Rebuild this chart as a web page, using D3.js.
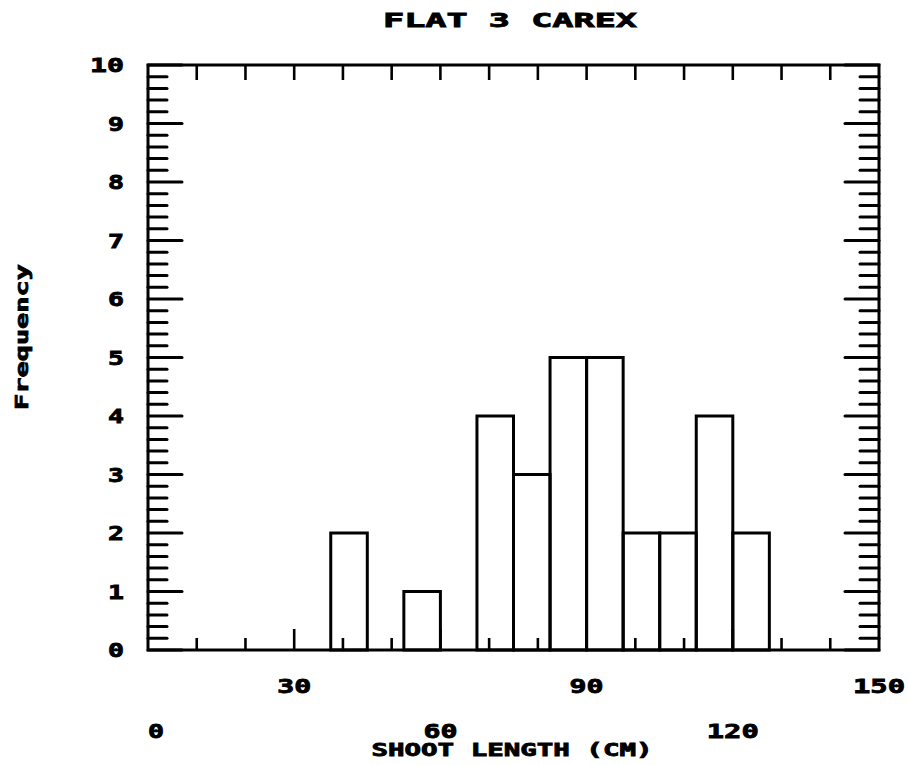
<!DOCTYPE html>
<html><head><meta charset="utf-8">
<script src="https://cdn.jsdelivr.net/npm/d3@7"></script>
<style>
html,body{margin:0;padding:0;background:#fff;}
svg text{font-family:"DejaVu Sans Mono",monospace;font-weight:bold;fill:#000;stroke:#000;stroke-width:0.8px;}
</style></head>
<body><svg id="c" width="909" height="765"></svg>
<script>
// ---- data ----
const binStarts = [37.5, 52.5, 67.5, 75, 82.5, 90, 97.5, 105, 112.5, 120];
const binEnds   = [45, 60, 75, 82.5, 90, 97.5, 105, 112.5, 120, 127.5];
const counts    = [2, 1, 4, 3, 5, 5, 2, 2, 4, 2];
const xLabelsUpper = [30, 90, 150];
const xLabelsLower = [0, 60, 120];
const yLabels = [0,1,2,3,4,5,6,7,8,9,10];
const titleText = "FLAT  3  CAREX";
const xTitle = "SHOOT  LENGTH  (CM)";
const yTitle = "Frequency";

const svg = d3.select("#c");
const L = 148, R = 879, T = 65, B = 650;
const x = d3.scaleLinear().domain([0,150]).range([L,R]);
const y = d3.scaleLinear().domain([0,10]).range([B,T]);
const tl = s => String(s).length*18 - 2;

const g = svg.append("g");
// bars
g.selectAll("rect.bar").data(counts).join("rect")
  .attr("x", (d,i)=>x(binStarts[i]))
  .attr("width", (d,i)=>x(binEnds[i])-x(binStarts[i]))
  .attr("y", d=>y(d)).attr("height", d=>B-y(d))
  .attr("fill","none").attr("stroke","#000").attr("stroke-width",3);

// frame
g.append("rect").attr("x",L).attr("y",T).attr("width",R-L).attr("height",B-T)
  .attr("fill","none").attr("stroke","#000").attr("stroke-width",3);

// y ticks left/right (inward)
const yMinor = d3.range(0,10.001,0.2);
yMinor.forEach(v=>{
  const major = Math.abs(v-Math.round(v))<1e-6;
  const len = major ? 34 : 19;
  g.append("line").attr("x1",L).attr("x2",L+len).attr("y1",y(v)).attr("y2",y(v))
    .attr("stroke","#000").attr("stroke-width",3).attr("stroke-linecap","round");
  g.append("line").attr("x1",R).attr("x2",R-len).attr("y1",y(v)).attr("y2",y(v))
    .attr("stroke","#000").attr("stroke-width",3).attr("stroke-linecap","round");
});
// x ticks top & bottom every 10
d3.range(10,150,10).forEach(v=>{
  g.append("line").attr("x1",x(v)).attr("x2",x(v)).attr("y1",T).attr("y2",T+15)
    .attr("stroke","#000").attr("stroke-width",2.6);
  const len = (v%30===0) ? 21 : 12;
  g.append("line").attr("x1",x(v)).attr("x2",x(v)).attr("y1",B).attr("y2",B-len)
    .attr("stroke","#000").attr("stroke-width",2.6);
});

// y labels
svg.selectAll("text.yl").data(yLabels).join("text")
  .attr("x",124).attr("y",d=>y(d)+7).attr("text-anchor","end")
  .attr("font-size",19).attr("textLength",d=>tl(d)).attr("lengthAdjust","spacingAndGlyphs").text(d=>d);
// x labels
svg.selectAll("text.xu").data(xLabelsUpper).join("text")
  .attr("x",d=>x(d)).attr("y",693).attr("text-anchor","middle")
  .attr("font-size",19).attr("textLength",d=>tl(d)).attr("lengthAdjust","spacingAndGlyphs").text(d=>d);
svg.selectAll("text.xl").data(xLabelsLower).join("text")
  .attr("x",d=>d===0 ? x(d)+8 : x(d)).attr("y",738).attr("text-anchor","middle")
  .attr("font-size",19).attr("textLength",d=>tl(d)).attr("lengthAdjust","spacingAndGlyphs").text(d=>d);

svg.append("text").attr("x",512).attr("y",756).attr("text-anchor","middle")
  .attr("font-size",17).attr("textLength",281).attr("lengthAdjust","spacingAndGlyphs").text(xTitle);
svg.append("text").attr("x",510).attr("y",27).attr("text-anchor","middle")
  .attr("font-size",19).attr("textLength",254).attr("lengthAdjust","spacingAndGlyphs").text(titleText);
svg.append("text").attr("transform","translate(28,337) rotate(-90)").attr("text-anchor","middle")
  .attr("font-size",18).attr("textLength",146).attr("lengthAdjust","spacingAndGlyphs").text(yTitle);
</script></body></html>
